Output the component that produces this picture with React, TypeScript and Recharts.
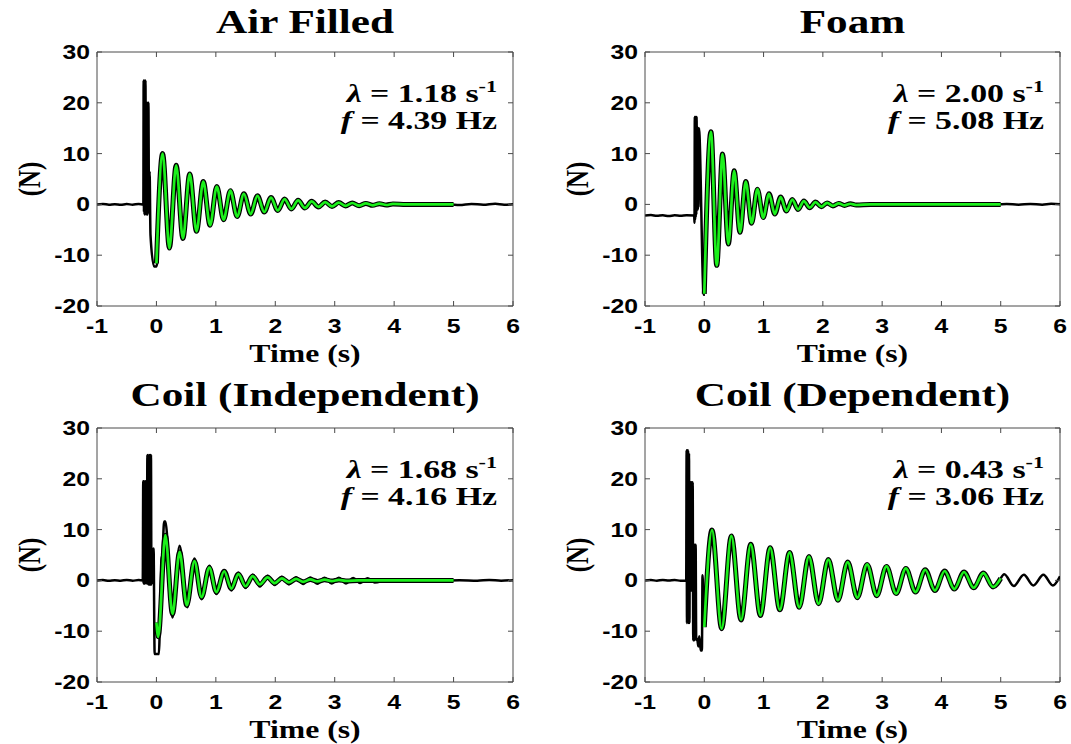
import { LineChart, Line, XAxis, YAxis, ReferenceLine } from "recharts";

type Pt = [number, number];

const X_TICKS = [-1, 0, 1, 2, 3, 4, 5, 6];
const Y_TICKS = [-20, -10, 0, 10, 20, 30];

const TITLES = ["Air Filled", "Foam", "Coil (Independent)", "Coil (Dependent)"];
const LAMBDAS = ["1.18", "2.00", "1.68", "0.43"];
const FREQS = ["4.39", "5.08", "4.16", "3.06"];

// Air filled: measured force (black) before/after the fit window, and the fitted damped sine (green)
const airImpact: Pt[] = [
  [-1, 0], [-0.9, 0.08], [-0.8, -0.06], [-0.7, 0.05], [-0.6, -0.08], [-0.5, 0.06], [-0.4, -0.05],
  [-0.3, 0.08], [-0.22, 0], [-0.215, 24.4], [-0.21, -1.5], [-0.205, 24.4], [-0.2, -2],
  [-0.195, 24.2], [-0.19, -1.8], [-0.185, 24.4], [-0.175, -2], [-0.165, 20], [-0.16, -1.5],
  [-0.155, 20], [-0.15, -2], [-0.145, 19.8], [-0.14, -1], [-0.135, 20], [-0.125, -1.5],
  [-0.115, 6.5], [-0.1, -6], [-0.04, -12.2], [0, -12.2], [0.02, -11],
];
const airFit: Pt[] = [
  [0, -11.6], [0.104, 10], [0.218, -8.6], [0.332, 7.7], [0.446, -6.7], [0.56, 6.0], [0.674, -5.3],
  [0.788, 4.5], [0.902, -4.1], [1.016, 3.5], [1.13, -3.0], [1.244, 2.7], [1.358, -2.4],
  [1.472, 2.1], [1.586, -1.9], [1.7, 1.7], [1.814, -1.5], [1.928, 1.35], [2.042, -1.2],
  [2.156, 1.05], [2.27, -0.9], [2.384, 0.8], [2.498, -0.7], [2.612, 0.6], [2.726, -0.5],
  [2.84, 0.45], [2.954, -0.4], [3.068, 0.35], [3.182, -0.3], [3.296, 0.28], [3.41, -0.25],
  [3.524, 0.2], [3.638, -0.18], [3.752, 0.15], [3.866, -0.12], [3.98, 0.1], [4.2, 0], [5, 0],
];
const airTail: Pt[] = [
  [4.9, 0.05], [5.1, -0.1], [5.3, 0.1], [5.5, -0.08], [5.7, 0.12], [5.85, -0.05], [6, 0.05],
];

// Foam
const foamImpact: Pt[] = [
  [-1, -2.2], [-0.9, -2.1], [-0.8, -2.25], [-0.7, -2.15], [-0.6, -2.3], [-0.5, -2.15],
  [-0.4, -2.25], [-0.3, -2.15], [-0.17, -2.2], [-0.165, -3.6], [-0.16, 17.2], [-0.155, -3],
  [-0.15, 17.2], [-0.145, -2.5], [-0.14, 17], [-0.135, -2], [-0.13, 17.2], [-0.122, -1],
  [-0.116, 15.2], [-0.11, -1], [-0.104, 15], [-0.098, -0.5], [-0.09, 15], [-0.01, -17.8],
  [0.01, -17.8],
];
const foamFit: Pt[] = [
  [0, -17.6], [0.112, 14.3], [0.21, -12.0], [0.308, 9.9], [0.406, -7.8], [0.504, 6.6],
  [0.602, -5.5], [0.7, 4.5], [0.798, -3.7], [0.896, 3.0], [0.994, -2.6], [1.092, 2.1],
  [1.19, -1.9], [1.288, 1.45], [1.386, -1.3], [1.484, 0.95], [1.582, -1.0], [1.68, 0.65],
  [1.778, -0.65], [1.876, 0.45], [1.974, -0.45], [2.072, 0.3], [2.17, -0.3], [2.268, 0.2],
  [2.366, -0.2], [2.464, 0.13], [2.562, -0.12], [2.8, 0], [5, 0],
];
const foamTail: Pt[] = [
  [4.9, 0], [5.1, 0.1], [5.3, -0.05], [5.5, 0.1], [5.7, -0.05], [5.85, 0.12], [6, 0.05],
];

// Coil (independent): the measured trace departs from the fit, so it is kept whole
const coilIMeasured: Pt[] = [
  [-1, 0], [-0.9, 0.06], [-0.8, -0.08], [-0.7, 0.05], [-0.6, -0.06], [-0.5, 0.08], [-0.4, -0.05],
  [-0.3, 0.06], [-0.23, 0], [-0.222, 19.5], [-0.216, -0.6], [-0.21, 19.5], [-0.204, -0.6],
  [-0.198, 19.3], [-0.192, -0.6], [-0.186, 19.5], [-0.18, -0.5], [-0.174, 19.5],
  [-0.162, -0.6], [-0.152, 24.7], [-0.146, -0.6], [-0.14, 24.7], [-0.134, -0.8],
  [-0.128, 24.5], [-0.122, -0.8], [-0.116, 24.7], [-0.11, -0.8], [-0.104, 24.7],
  [-0.098, -0.8], [-0.092, 24.7], [-0.084, -0.8], [-0.07, 6.3], [-0.058, -0.5], [-0.048, 6.3],
  [-0.03, -14.5], [0.04, -14.5], [0.085, 4.2], [0.1, 5], [0.13, 11.6], [0.15, 11.6],
  [0.27, -7.3], [0.39, 6.8], [0.52, -5.3], [0.64, 4.3], [0.76, -3.7], [0.89, 2.9],
  [1.01, -2.7], [1.14, 2.0], [1.26, -2.0], [1.38, 1.5], [1.5, -1.5], [1.62, 1.1], [1.74, -1.2],
  [1.87, 0.9], [1.99, -0.9], [2.11, 0.7], [2.23, -0.8], [2.35, 0.6], [2.47, -0.7], [2.59, 0.55],
  [2.71, -0.65], [2.83, 0.5], [2.95, -0.6], [3.07, 0.5], [3.19, -0.6], [3.31, 0.45],
  [3.43, -0.5], [3.55, 0.4], [3.67, -0.4], [3.9, 0.05], [4.2, -0.05], [4.5, 0.08], [4.8, -0.05],
  [5.1, 0.05], [5.4, -0.08], [5.6, 0.1], [5.8, -0.05], [6, 0.05],
];
const coilIFit: Pt[] = [
  [0, -8.3], [0.03, -11.1], [0.15, 8.9], [0.27, -6.6], [0.39, 5.6], [0.51, -4.9], [0.64, 3.8],
  [0.76, -3.3], [0.89, 2.5], [1.01, -2.3], [1.14, 1.8], [1.26, -1.6], [1.38, 1.25], [1.5, -1.15],
  [1.62, 0.85], [1.74, -0.8], [1.87, 0.6], [1.99, -0.55], [2.11, 0.4], [2.23, -0.4], [2.35, 0.3],
  [2.47, -0.28], [2.59, 0.2], [2.71, -0.2], [2.83, 0.14], [2.95, -0.13], [3.07, 0.1],
  [3.19, -0.1], [3.4, 0], [5, 0],
];

// Coil (dependent)
const coilDImpact: Pt[] = [
  [-1, 0], [-0.9, 0.06], [-0.8, -0.05], [-0.7, 0.08], [-0.6, -0.04], [-0.5, 0.06], [-0.4, -0.05],
  [-0.305, 0], [-0.298, 25.6], [-0.292, -8.4], [-0.286, 25.6], [-0.28, -8], [-0.274, 25.6],
  [-0.266, -8.4], [-0.258, 25], [-0.25, -8.4], [-0.242, 19.3], [-0.236, -2], [-0.228, 19.3],
  [-0.22, -2], [-0.212, 19.3], [-0.204, -2], [-0.196, 19.3], [-0.186, -11.8], [-0.178, 7],
  [-0.17, -11.8], [-0.162, 7], [-0.154, -11.6], [-0.146, 7], [-0.136, -11.7], [-0.12, -11.5],
  [-0.1, -13], [-0.085, -11], [-0.06, -13.8], [-0.04, -13.8], [-0.03, 1], [-0.015, -5],
  [0, -9],
];
const coilDFit: Pt[] = [
  [0, -9.2], [0.13, 9.9], [0.293, -9.5], [0.457, 8.75], [0.62, -7.8], [0.784, 7.1],
  [0.947, -6.9], [1.111, 6.45], [1.274, -5.8], [1.438, 5.5], [1.601, -5.3], [1.765, 4.7],
  [1.928, -4.6], [2.092, 4.1], [2.255, -3.9], [2.419, 3.6], [2.582, -3.4], [2.746, 3.15],
  [2.909, -3.0], [3.073, 2.75], [3.236, -2.6], [3.4, 2.35], [3.563, -2.3], [3.727, 2.1],
  [3.89, -2.0], [4.054, 1.85], [4.217, -1.7], [4.381, 1.65], [4.544, -1.45], [4.708, 1.45],
  [4.871, -1.3], [5.0, 0.4],
];
const coilDTail: Pt[] = [
  [5.0, 0.4], [5.06, 1.2], [5.22, -1.1], [5.39, 1.1], [5.55, -1.0], [5.72, 1.1], [5.88, -1.0],
  [6, 0.8],
];

const GREEN = "#1cf01c";
const FRAME = "#4a4a4a";
const SX = 1.27; // the source figure is stretched horizontally
const SERIF = '"Liberation Serif", "Times New Roman", serif';
const SANS = '"Liberation Sans", Arial, sans-serif';
const Y_AXIS_W = 60;
const X_AXIS_H = 30;

const toRows = (pts: Pt[]) => pts.map(([t, v]) => ({ t, v }));

type Box = {
  left: number;
  top: number;
  width: number;
  height: number;
  plotL: number;
  plotR: number;
  plotT: number;
  plotB: number;
  titleY: number;
};

const BOXES: Box[] = [
  { left: 0, top: 0, width: 540, height: 370, plotL: 97, plotR: 513, plotT: 52, plotB: 306, titleY: 33 },
  { left: 520, top: 0, width: 551, height: 370, plotL: 125, plotR: 540, plotT: 52, plotB: 306, titleY: 33 },
  { left: 0, top: 370, width: 540, height: 374, plotL: 97, plotR: 513, plotT: 58, plotB: 312, titleY: 35.5 },
  { left: 520, top: 370, width: 551, height: 374, plotL: 125, plotR: 540, plotT: 58, plotB: 312, titleY: 35.5 },
];

function XTick(props: any) {
  const { x, y, payload, top } = props;
  const axisY = y - 6;
  return (
    <g>
      <line x1={x} x2={x} y1={axisY} y2={axisY - 5} stroke={FRAME} />
      <line x1={x} x2={x} y1={top} y2={top + 5} stroke={FRAME} />
      <text
        transform={`translate(${x},${axisY + 27}) scale(${SX},1)`}
        textAnchor="middle"
        fontFamily={SANS}
        fontWeight="bold"
        fontSize={19.5}
        fill="#000"
      >
        {payload.value}
      </text>
    </g>
  );
}

function YTick(props: any) {
  const { x, y, payload, right } = props;
  const axisX = x + 7;
  return (
    <g>
      <line x1={axisX} x2={axisX + 5} y1={y} y2={y} stroke={FRAME} />
      <line x1={right - 5} x2={right} y1={y} y2={y} stroke={FRAME} />
      <text
        transform={`translate(${x},${y + 7}) scale(${SX},1)`}
        textAnchor="end"
        fontFamily={SANS}
        fontWeight="bold"
        fontSize={19.5}
        fill="#000"
      >
        {payload.value}
      </text>
    </g>
  );
}

type PanelProps = {
  box: Box;
  title: string;
  lambda: string;
  freq: string;
  measured: Pt[][];
  fit: Pt[];
};

function Panel({ box, title, lambda, freq, measured, fit }: PanelProps) {
  const { width, height, plotL, plotR, plotT, plotB } = box;
  const margin = {
    top: plotT,
    left: plotL - Y_AXIS_W,
    right: width - plotR,
    bottom: height - plotB - X_AXIS_H,
  };
  const midX = (plotL + plotR) / 2;
  const midY = (plotT + plotB) / 2;

  return (
    <div style={{ position: "absolute", left: box.left, top: box.top, width, height }}>
      <LineChart width={width} height={height} margin={margin}>
        <XAxis
          type="number"
          dataKey="t"
          domain={[-1, 6]}
          ticks={X_TICKS}
          interval={0}
          allowDataOverflow
          height={X_AXIS_H}
          tickSize={0}
          tickMargin={6}
          tickLine={false}
          stroke={FRAME}
          tick={<XTick top={plotT} />}
        />
        <YAxis
          type="number"
          domain={[-20, 30]}
          ticks={Y_TICKS}
          interval={0}
          allowDataOverflow
          width={Y_AXIS_W}
          tickSize={0}
          tickMargin={7}
          tickLine={false}
          stroke={FRAME}
          tick={<YTick right={plotR} />}
        />
        <ReferenceLine y={30} stroke={FRAME} strokeWidth={1} ifOverflow="visible" />
        <ReferenceLine x={6} stroke={FRAME} strokeWidth={1} ifOverflow="visible" />

        {measured.map((seg, i) => (
          <Line
            key={`m${i}`}
            data={toRows(seg)}
            dataKey="v"
            type="monotone"
            stroke="#000"
            strokeWidth={2.5}
            dot={false}
            activeDot={false}
            isAnimationActive={false}
          />
        ))}
        <Line
          data={toRows(fit)}
          dataKey="v"
          type="monotone"
          stroke="#000"
          strokeWidth={5}
          dot={false}
          activeDot={false}
          isAnimationActive={false}
        />
        <Line
          data={toRows(fit)}
          dataKey="v"
          type="monotone"
          stroke={GREEN}
          strokeWidth={2.7}
          dot={false}
          activeDot={false}
          isAnimationActive={false}
        />
      </LineChart>

      <svg
        width={width}
        height={height}
        style={{ position: "absolute", left: 0, top: 0, pointerEvents: "none", overflow: "visible" }}
      >
        <text
          transform={`translate(${midX},${box.titleY}) scale(${SX},1)`}
          textAnchor="middle"
          fontFamily={SERIF}
          fontWeight="bold"
          fontSize={34}
          fill="#000"
        >
          {title}
        </text>
        <text
          transform={`translate(${midX},${plotB + 55.7}) scale(${SX},1)`}
          textAnchor="middle"
          fontFamily={SERIF}
          fontWeight="bold"
          fontSize={25}
          fill="#000"
        >
          Time (s)
        </text>
        <text
          transform={`translate(${plotL - 57},${midY}) scale(${SX},1) rotate(-90)`}
          textAnchor="middle"
          fontFamily={SERIF}
          fontWeight="bold"
          fontSize={25}
          fill="#000"
        >
          (N)
        </text>
        {/* fit annotation: slightly smaller glyphs, wider stretch, so the two lines don't collide */}
        <text
          transform={`translate(${plotR - 16},${plotT + 50}) scale(1.38,1)`}
          textAnchor="end"
          fontFamily={SERIF}
          fontWeight="bold"
          fontSize={24.5}
          fill="#000"
        >
          <tspan fontStyle="italic">λ</tspan>
          {` = ${lambda} s`}
          <tspan fontSize={16} dy={-10}>
            -1
          </tspan>
        </text>
        <text
          transform={`translate(${plotR - 16},${plotT + 77.2}) scale(1.38,1)`}
          textAnchor="end"
          fontFamily={SERIF}
          fontWeight="bold"
          fontSize={24.5}
          fill="#000"
        >
          <tspan fontStyle="italic">f</tspan>
          {` = ${freq} Hz`}
        </text>
      </svg>
    </div>
  );
}

export default function App() {
  const measured: Pt[][][] = [
    [airImpact, airTail],
    [foamImpact, foamTail],
    [coilIMeasured],
    [coilDImpact, coilDTail],
  ];
  const fits: Pt[][] = [airFit, foamFit, coilIFit, coilDFit];

  return (
    <div
      style={{
        position: "absolute",
        left: 0,
        top: 0,
        width: 1071,
        height: 744,
        background: "#fff",
        overflow: "hidden",
      }}
    >
      {BOXES.map((box, i) => (
        <Panel
          key={TITLES[i]}
          box={box}
          title={TITLES[i]}
          lambda={LAMBDAS[i]}
          freq={FREQS[i]}
          measured={measured[i]}
          fit={fits[i]}
        />
      ))}
    </div>
  );
}
